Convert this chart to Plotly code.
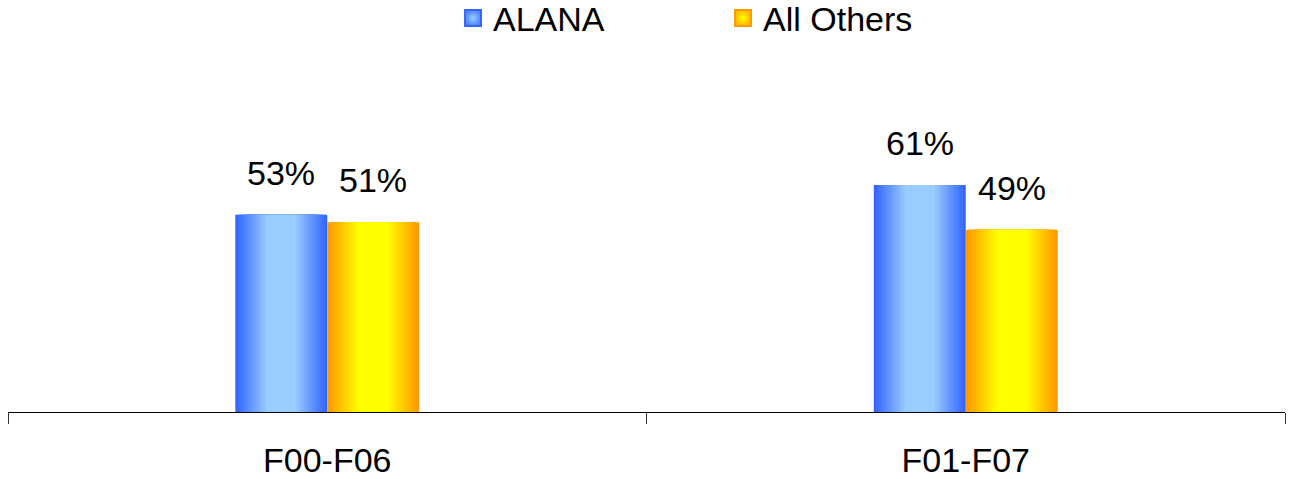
import plotly.graph_objects as go

# ---- data ----
categories = ["F00-F06", "F01-F07"]
series_names = ["ALANA", "All Others"]
alana_values = [53, 61]
others_values = [51, 49]

# ---- style ----
FONT = "Liberation Sans, Arial, sans-serif"
FS = 34
BAR_W = 0.144
N_LAYERS = 12
edge_colors = ["#3366FF", "#FF9900"]
center_colors = ["#99CCFF", "#FFFF00"]


def hex_to_rgb(h):
    h = h.lstrip("#")
    return tuple(int(h[i:i + 2], 16) for i in (0, 2, 4))


def mix(c1, c2, t):
    a, b = hex_to_rgb(c1), hex_to_rgb(c2)
    return "rgb(%d,%d,%d)" % tuple(round(a[i] + (b[i] - a[i]) * t) for i in range(3))


fig = go.Figure()

all_values = [alana_values, others_values]
for s, (name, vals) in enumerate(zip(series_names, all_values)):
    left = -BAR_W if s == 0 else 0.0
    right = left + BAR_W
    ramp = BAR_W / 3.0
    for k in range(N_LAYERS + 1):
        t = k / N_LAYERS
        l = left + ramp * t
        r = right - ramp * t
        fig.add_trace(go.Bar(
            x=categories, y=vals,
            offset=[l] * len(categories), width=[r - l] * len(categories),
            marker=dict(color=mix(edge_colors[s], center_colors[s], t), line=dict(width=0)),
            showlegend=False, hoverinfo="skip",
        ))
    # legend-only entry
    fig.add_trace(go.Scatter(
        x=[None], y=[None], mode="markers", name=name,
        marker=dict(symbol="square", size=16, color=mix(edge_colors[s], center_colors[s], 0.3),
                    gradient=dict(type="radial", color=center_colors[s]),
                    line=dict(width=2, color=edge_colors[s])),
    ))
    # value labels
    for i, v in enumerate(vals):
        fig.add_annotation(
            x=i + left + BAR_W / 2, y=v, xref="x", yref="y",
            text=f"{v}%", showarrow=False, yanchor="bottom", yshift=21,
            font=dict(family=FONT, size=FS, color="black"),
        )

fig.update_layout(
    width=1292, height=479,
    margin=dict(l=8, r=7, t=40, b=67, autoexpand=False),
    barmode="overlay",
    plot_bgcolor="white", paper_bgcolor="white",
    font=dict(family=FONT, size=FS, color="black"),
    legend=dict(orientation="h", x=0.3485, xanchor="left", y=1.058, yanchor="middle",
                entrywidth=225, entrywidthmode="pixels",
                font=dict(family=FONT, size=FS, color="black"), itemsizing="trace"),
    xaxis=dict(type="category", tickson="boundaries", ticks="outside", ticklen=11,
               tickcolor="#333", tickwidth=1, showline=True, linecolor="black", linewidth=1,
               showgrid=False, automargin=False, ticklabelstandoff=18,
               tickfont=dict(family=FONT, size=FS, color="black")),
    yaxis=dict(range=[0, 100], visible=False, showgrid=False, zeroline=False, automargin=False),
)

fig.write_html("out.html", config={"displayModeBar": False},
               post_script="document.body.style.margin='0px';document.body.style.overflow='hidden';")
